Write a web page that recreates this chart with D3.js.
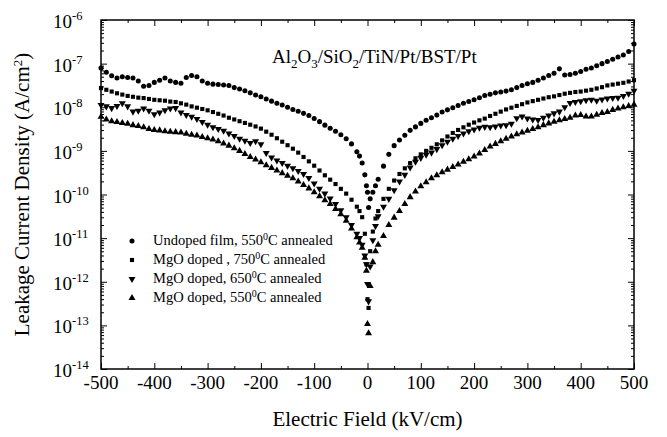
<!DOCTYPE html>
<html>
<head>
<meta charset="utf-8">
<script src="https://cdn.jsdelivr.net/npm/d3@7"></script>
<style>
  body { margin: 0; background: #fff; }
</style>
</head>
<body>
<svg id="chart" width="667" height="437" font-family="'Liberation Serif', 'DejaVu Serif', 'Times New Roman', serif"></svg>
<script>
// Campo eléctrico (kV/cm), compartido por las cuatro series
const field = [
  -500,-490,-480,-470,-460,-450,-440,-430,-420,-410,-400,-390,-380,-370,-360,-350,
  -340,-330,-320,-310,-300,-290,-280,-270,-260,-250,-240,-230,-220,-210,-200,-190,
  -180,-170,-160,-150,-140,-130,-120,-110,-100,-90,-80,-70,-60,-50,-40,-30,
  -20,-15,-10,-5,-2,0,2,5,10,15,20,
  30,40,50,60,70,80,90,100,110,120,130,140,150,160,170,180,190,200,
  210,220,230,240,250,260,270,280,290,300,310,320,330,340,350,360,
  370,380,390,400,410,420,430,440,450,460,470,480,490,500
];

// log10 de la densidad de corriente (A/cm2)
const undoped550 = [
  -7.10,-7.20,-7.28,-7.33,-7.30,-7.32,-7.33,-7.40,-7.52,-7.50,-7.43,-7.38,-7.33,-7.40,-7.43,-7.45,
  -7.32,-7.27,-7.30,-7.40,-7.45,-7.47,-7.48,-7.49,-7.50,-7.55,-7.58,-7.62,-7.67,-7.72,-7.76,-7.81,
  -7.86,-7.91,-7.95,-8.00,-8.05,-8.09,-8.14,-8.19,-8.26,-8.33,-8.41,-8.48,-8.55,-8.63,-8.72,-8.84,
  -9.02,-9.12,-9.28,-9.55,-9.80,-9.95,-10.30,-10.10,-9.95,-9.80,-9.65,
  -9.35,-9.08,-8.88,-8.75,-8.64,-8.53,-8.45,-8.37,-8.30,-8.24,-8.18,-8.11,-8.06,-8.01,-7.96,-7.91,-7.87,-7.83,
  -7.78,-7.73,-7.70,-7.67,-7.65,-7.63,-7.60,-7.55,-7.50,-7.46,-7.43,-7.38,-7.33,-7.27,-7.22,-7.12,
  -7.26,-7.25,-7.22,-7.18,-7.13,-7.10,-7.05,-7.00,-6.95,-6.90,-6.85,-6.80,-6.72,-6.55
];

const mgo750 = [
  -7.56,-7.60,-7.64,-7.68,-7.71,-7.74,-7.76,-7.78,-7.79,-7.81,-7.83,-7.84,-7.85,-7.87,-7.88,-7.91,
  -7.94,-7.98,-8.01,-8.04,-8.07,-8.11,-8.15,-8.19,-8.24,-8.28,-8.32,-8.36,-8.40,-8.44,-8.49,-8.56,
  -8.63,-8.71,-8.79,-8.87,-8.95,-9.04,-9.14,-9.24,-9.34,-9.45,-9.56,-9.66,-9.76,-9.87,-9.98,-10.12,
  -10.28,-10.38,-10.52,-10.90,-11.60,-12.40,-12.60,-11.30,-10.85,-10.55,-10.38,
  -10.10,-9.87,-9.68,-9.53,-9.40,-9.28,-9.17,-9.08,-9.00,-8.93,-8.85,-8.76,-8.67,-8.59,-8.52,-8.46,-8.40,-8.35,
  -8.30,-8.26,-8.20,-8.15,-8.10,-8.05,-8.01,-7.97,-7.93,-7.89,-7.86,-7.83,-7.80,-7.77,-7.75,-7.72,
  -7.69,-7.67,-7.65,-7.64,-7.62,-7.60,-7.57,-7.54,-7.50,-7.48,-7.46,-7.44,-7.41,-7.38
];

const mgo650 = [
  -7.95,-7.98,-8.02,-7.97,-7.91,-7.98,-8.10,-8.08,-8.03,-8.08,-8.16,-8.12,-8.07,-8.03,-8.02,-8.12,
  -8.18,-8.22,-8.27,-8.34,-8.40,-8.46,-8.50,-8.54,-8.60,-8.66,-8.72,-8.77,-8.82,-8.78,-8.85,-9.05,
  -9.15,-9.22,-9.28,-9.34,-9.40,-9.46,-9.53,-9.62,-9.75,-9.87,-9.98,-10.09,-10.22,-10.36,-10.52,-10.70,
  -10.90,-11.00,-11.15,-11.40,-11.60,-12.05,-12.45,-11.65,-11.05,-10.72,-10.50,
  -10.28,-10.10,-9.90,-9.70,-9.55,-9.38,-9.25,-9.16,-9.09,-9.04,-8.96,-8.87,-8.79,-8.72,-8.66,-8.60,-8.55,-8.51,
  -8.47,-8.45,-8.46,-8.44,-8.42,-8.41,-8.38,-8.25,-8.21,-8.26,-8.28,-8.29,-8.24,-8.19,-8.14,-8.10,
  -8.00,-7.90,-7.88,-7.86,-7.84,-7.83,-7.85,-7.82,-7.80,-7.79,-7.78,-7.74,-7.69,-7.62
];

const mgo550 = [
  -8.22,-8.28,-8.32,-8.34,-8.36,-8.38,-8.41,-8.43,-8.46,-8.50,-8.52,-8.53,-8.55,-8.56,-8.57,-8.58,
  -8.61,-8.63,-8.65,-8.68,-8.71,-8.74,-8.78,-8.83,-8.88,-8.94,-9.00,-9.07,-9.14,-9.20,-9.26,-9.33,
  -9.39,-9.45,-9.51,-9.57,-9.63,-9.70,-9.78,-9.86,-9.95,-10.04,-10.13,-10.22,-10.33,-10.45,-10.60,-10.78,
  -10.98,-11.10,-11.22,-11.45,-11.75,-12.97,-13.18,-12.10,-11.55,-11.30,-11.15,
  -10.95,-10.70,-10.53,-10.38,-10.22,-10.06,-9.93,-9.81,-9.72,-9.63,-9.56,-9.49,-9.43,-9.37,-9.31,-9.25,-9.19,-9.13,
  -9.06,-8.98,-8.90,-8.84,-8.78,-8.72,-8.67,-8.62,-8.58,-8.54,-8.50,-8.46,-8.41,-8.37,-8.33,-8.30,
  -8.27,-8.24,-8.19,-8.18,-8.21,-8.21,-8.17,-8.13,-8.11,-8.06,-8.03,-8.00,-7.97,-7.94
];

const seriesLabels = [
  "Undoped film, 550|C annealed",
  "MgO doped , 750|C annealed",
  "MgO doped, 650|C annealed",
  "MgO doped, 550|C annealed"
];
const xTicks = [-500,-400,-300,-200,-100,0,100,200,300,400,500];
const yExponents = [-6,-7,-8,-9,-10,-11,-12,-13,-14];

const svg = d3.select("#chart");
const mLeft = 101, mRight = 634, mTop = 20, mBottom = 369;

const x = d3.scaleLinear().domain([-500, 500]).range([mLeft, mRight]);
const y = d3.scaleLog().domain([1e-14, 1e-6]).range([mBottom, mTop]);

// Ejes: marcas hacia dentro en los cuatro lados
const minorX = [-450,-350,-250,-150,-50,50,150,250,350,450];
const allY = y.ticks();
const minorY = allY.filter(v => Math.abs(Math.log10(v) - Math.round(Math.log10(v))) > 1e-6);
const majorY = yExponents.map(e => Math.pow(10, e));

function drawAxis(axis, tx, ty) {
  const g = svg.append("g").attr("transform", `translate(${tx},${ty})`).call(axis);
  g.select(".domain").remove();
  g.selectAll("line").attr("stroke", "#000").attr("stroke-width", 1);
  g.selectAll("text").remove();
}
drawAxis(d3.axisBottom(x).tickValues(xTicks).tickSize(-6), 0, mBottom);
drawAxis(d3.axisBottom(x).tickValues(minorX).tickSize(-3), 0, mBottom);
drawAxis(d3.axisTop(x).tickValues(xTicks).tickSize(-6), 0, mTop);
drawAxis(d3.axisTop(x).tickValues(minorX).tickSize(-3), 0, mTop);
drawAxis(d3.axisLeft(y).tickValues(majorY).tickSize(-6), mLeft, 0);
drawAxis(d3.axisLeft(y).tickValues(minorY).tickSize(-3), mLeft, 0);
drawAxis(d3.axisRight(y).tickValues(majorY).tickSize(-6), mRight, 0);
drawAxis(d3.axisRight(y).tickValues(minorY).tickSize(-3), mRight, 0);

svg.append("rect")
  .attr("x", mLeft).attr("y", mTop)
  .attr("width", mRight - mLeft).attr("height", mBottom - mTop)
  .attr("fill", "none").attr("stroke", "#000").attr("stroke-width", 1.5);

// Etiquetas de los ejes
svg.selectAll(".xlab")
  .data(xTicks)
  .enter()
  .append("text")
  .attr("x", d => x(d))
  .attr("y", mBottom + 20)
  .attr("text-anchor", "middle")
  .style("font-size", "19px")
  .text(d => d);

const ylab = svg.selectAll(".ylab")
  .data(yExponents)
  .enter()
  .append("text")
  .attr("x", 53)
  .attr("y", d => y(Math.pow(10, d)) + 8)
  .style("font-size", "19px");
ylab.append("tspan").text("10");
ylab.append("tspan").attr("dy", -8).style("font-size", "12.5px").text(d => d);

svg.append("text")
  .attr("x", x(0)).attr("y", 426)
  .attr("text-anchor", "middle")
  .style("font-size", "21px")
  .text("Electric Field (kV/cm)");

const yt = svg.append("text")
  .attr("transform", `translate(29,${(mTop + mBottom) / 2}) rotate(-90)`)
  .attr("text-anchor", "middle")
  .style("font-size", "21px");
yt.append("tspan").text("Leakage Current Density (A/cm");
yt.append("tspan").attr("dy", -7).style("font-size", "13px").text("2");
yt.append("tspan").attr("dy", 7).text(")");

// Título interior con subíndices
const title = svg.append("text").attr("x", 272).attr("y", 63).style("font-size", "19px");
[["Al", 0], ["2", 1], ["O", 0], ["3", 1], ["/SiO", 0], ["2", 1], ["/TiN/Pt/BST/Pt", 0]]
  .reduce((prev, [t, sub]) => {
    title.append("tspan")
      .attr("dy", sub === prev ? 0 : (sub ? 5 : -5))
      .style("font-size", sub ? "13px" : "19px")
      .text(t);
    return sub;
  }, 0);

// Marcadores
const sym = [
  d3.symbol().type(d3.symbolCircle).size(20),
  d3.symbol().type(d3.symbolSquare).size(17),
  d3.symbol().type(d3.symbolTriangle).size(21),
  d3.symbol().type(d3.symbolTriangle).size(21)
];
const rot = [0, 0, 180, 0];
const series = [undoped550, mgo750, mgo650, mgo550];

series.forEach((vals, i) => {
  svg.append("g")
    .selectAll("path")
    .data(vals.map((v, j) => [field[j], Math.pow(10, v)]))
    .enter()
    .append("path")
    .attr("d", sym[i])
    .attr("transform", d => `translate(${x(d[0])},${y(d[1])}) rotate(${rot[i]})`)
    .attr("fill", "#000");
});

// Leyenda
const legendY = [241, 260, 279, 298];
seriesLabels.forEach((lab, i) => {
  svg.append("path")
    .attr("d", sym[i])
    .attr("transform", `translate(132,${legendY[i]}) rotate(${rot[i]})`)
    .attr("fill", "#000");
  const [a, b] = lab.split("|");
  const t = svg.append("text")
    .attr("x", 153).attr("y", legendY[i] + 4)
    .style("font-size", "14.5px");
  t.append("tspan").text(a);
  t.append("tspan").attr("dy", -5).style("font-size", "10px").text("0");
  t.append("tspan").attr("dy", 5).text(b);
});
</script>
</body>
</html>
